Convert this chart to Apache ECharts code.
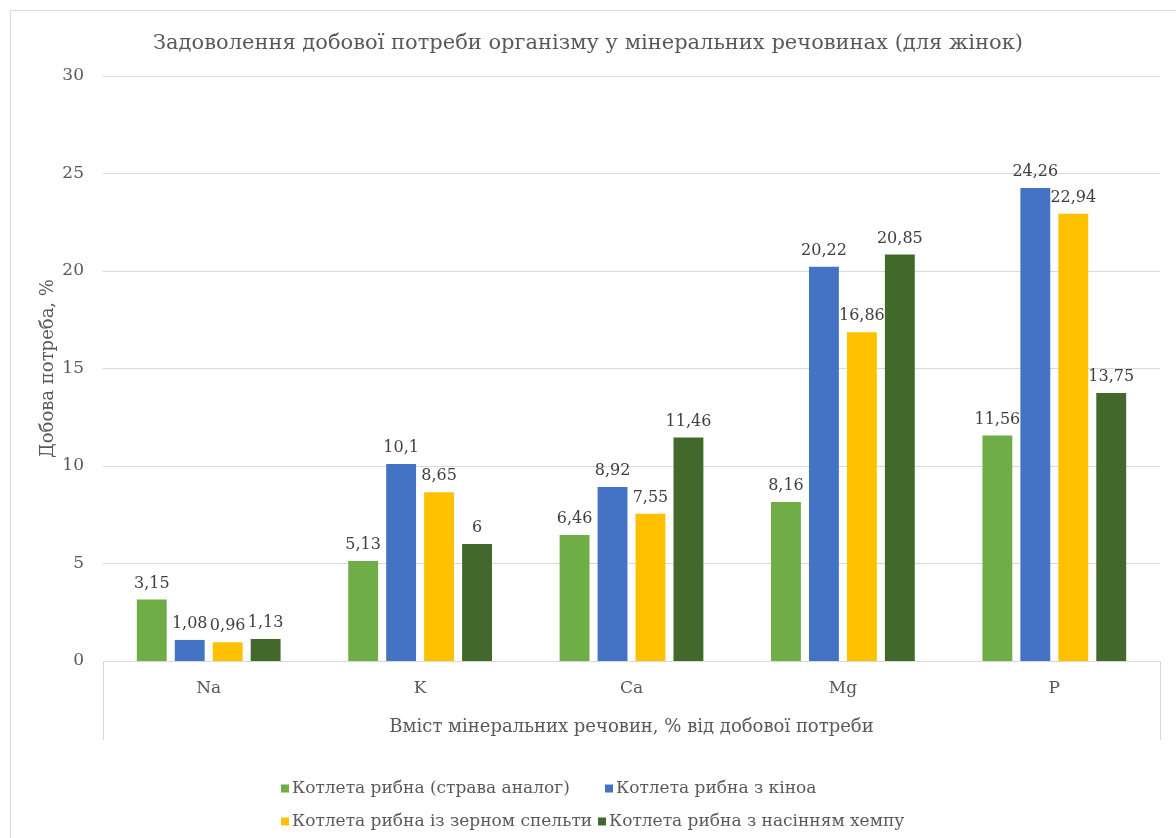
<!DOCTYPE html>
<html>
<head>
<meta charset="utf-8">
<script src="https://cdn.jsdelivr.net/npm/echarts@6/dist/echarts.min.js"></script>
<style>
html,body{margin:0;padding:0;background:#fff;}
#chart{width:1176px;height:838px;}
</style>
</head>
<body>
<div id="chart"></div>
<script>
const categories = ['Na', 'K', 'Ca', 'Mg', 'P'];
const seriesNames = [
  'Котлета рибна (страва аналог)',
  'Котлета рибна з кіноа',
  'Котлета рибна із зерном спельти',
  'Котлета рибна з насінням хемпу'
];
const analogValues = [3.15, 5.13, 6.46, 8.16, 11.56];
const quinoaValues = [1.08, 10.1, 8.92, 20.22, 24.26];
const speltValues = [0.96, 8.65, 7.55, 16.86, 22.94];
const hempValues = [1.13, 6, 11.46, 20.85, 13.75];
const colors = ['#70ad47', '#4472c4', '#ffc000', '#43682b'];
const titleText = 'Задоволення добової потреби організму у мінеральних речовинах (для жінок)';
const yAxisTitle = 'Добова потреба, %';
const xAxisTitle = 'Вміст мінеральних речовин, % від добової потреби';

const serif = '"DejaVu Serif", "Liberation Serif", serif';
const allValues = [analogValues, quinoaValues, speltValues, hempValues];

const chart = echarts.init(document.getElementById('chart'));
const legendLefts = [276, 600, 276, 593];
const legendTops = [775, 775, 808, 808];

chart.setOption({
  backgroundColor: '#fff',
  animation: false,
  color: colors,
  graphic: [{
    type: 'rect', left: 8, top: 8,
    shape: { width: 1200, height: 900 },
    style: { fill: 'none', stroke: '#d9d9d9', lineWidth: 1 },
    silent: true
  }],
  title: {
    text: titleText,
    left: 'center',
    top: 28,
    textStyle: { fontFamily: serif, fontSize: 21, fontWeight: 'normal', color: '#595959' }
  },
  legend: seriesNames.map((n, i) => ({
    data: [n],
    left: legendLefts[i],
    top: legendTops[i],
    icon: 'rect',
    itemWidth: 8,
    itemHeight: 8,
    itemGap: 4,
    textStyle: { fontFamily: serif, fontSize: 17, color: '#595959', padding: [0, 0, 0, -2] }
  })),
  grid: { left: 103, right: 16, top: 76, bottom: 177, containLabel: false },
  xAxis: [{
    type: 'category',
    data: categories,
    axisLine: { lineStyle: { color: '#d9d9d9' } },
    axisTick: { show: false },
    axisLabel: { fontFamily: serif, fontSize: 17, color: '#595959', margin: 19 }
  }, {
    type: 'category',
    data: [xAxisTitle],
    position: 'bottom',
    boundaryGap: true,
    axisLine: { show: false },
    axisTick: { show: true, length: 79, lineStyle: { color: '#d9d9d9' } },
    axisLabel: { fontFamily: serif, fontSize: 18, color: '#595959', margin: 57 },
    splitLine: { show: false }
  }],
  yAxis: {
    type: 'value',
    min: 0, max: 30, interval: 5,
    name: yAxisTitle,
    nameLocation: 'middle',
    nameGap: 46,
    nameMoveOverlap: false,
    nameRotate: 90,
    nameTextStyle: { fontFamily: serif, fontSize: 18, color: '#595959' },
    axisLine: { show: false },
    axisTick: { show: false },
    axisLabel: { fontFamily: serif, fontSize: 17, color: '#595959', margin: 19 },
    splitLine: { lineStyle: { color: '#d9d9d9' } }
  },
  series: seriesNames.map((n, i) => ({
    name: n,
    type: 'bar',
    xAxisIndex: 0,
    data: allValues[i],
    barGap: '27%',
    barCategoryGap: '32%',
    itemStyle: { color: colors[i] },
    label: {
      show: true,
      position: 'top',
      distance: 8,
      fontFamily: serif,
      fontSize: 16,
      color: '#404040',
      formatter: p => String(p.value).replace('.', ',')
    }
  }))
});
</script>
</body>
</html>
